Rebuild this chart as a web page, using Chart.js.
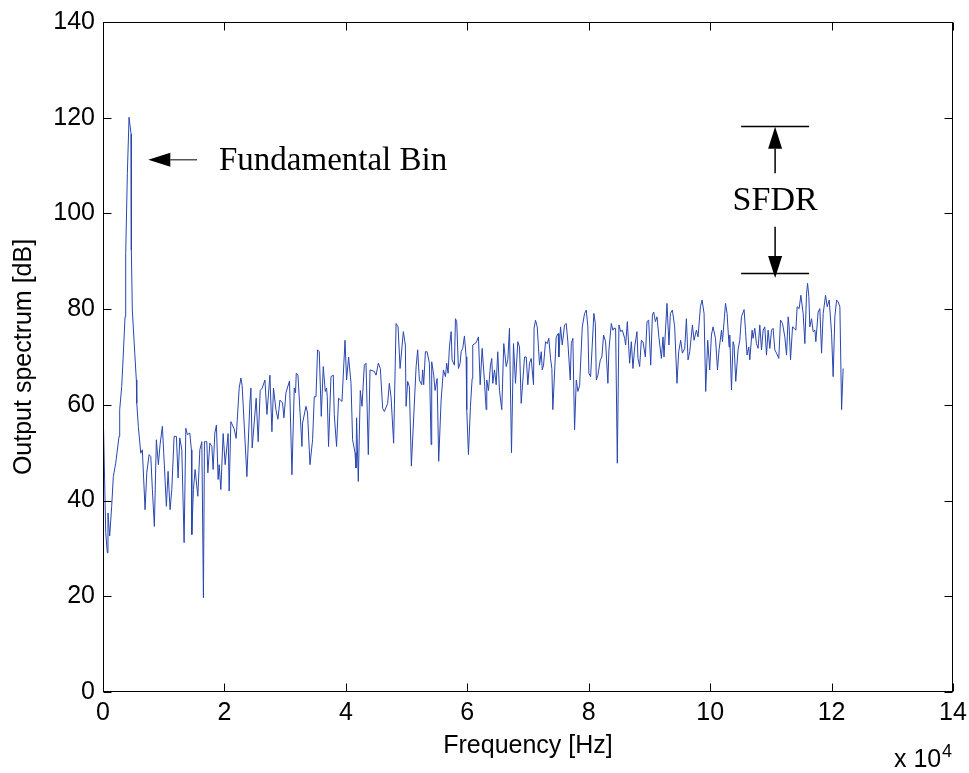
<!DOCTYPE html>
<html>
<head>
<meta charset="utf-8">
<script src="https://cdn.jsdelivr.net/npm/chart.js@4.4.1/dist/chart.umd.min.js"></script>
<style>
  body { margin: 0; background: #fff; }
  canvas { display: block; }
</style>
</head>
<body>
<canvas id="spectrum" width="969" height="773"></canvas>
<script>
// frequency in units of 1e4 Hz
const freq = [
  0.000, 0.045, 0.071, 0.082, 0.110, 0.143, 0.170, 0.209, 0.264, 0.275, 0.308, 0.330, 0.363, 0.374, 0.401, 0.429,
  0.462, 0.467, 0.483, 0.523, 0.549, 0.556, 0.582, 0.622, 0.648, 0.693, 0.721, 0.759, 0.787, 0.813, 0.846, 0.879,
  0.912, 0.940, 0.978, 1.006, 1.044, 1.072, 1.105, 1.133, 1.171, 1.209, 1.237, 1.265, 1.298, 1.336, 1.364, 1.390,
  1.430, 1.456, 1.463, 1.489, 1.517, 1.562, 1.595, 1.628, 1.654, 1.671, 1.710, 1.727, 1.760, 1.793, 1.814, 1.842,
  1.868, 1.896, 1.913, 1.941, 1.979, 2.012, 2.061, 2.078, 2.106, 2.160, 2.193, 2.243, 2.271, 2.292, 2.370, 2.419,
  2.436, 2.457, 2.523, 2.556, 2.589, 2.622, 2.667, 2.700, 2.749, 2.782, 2.808, 2.848, 2.881, 2.914, 2.957, 2.980,
  3.013, 3.072, 3.112, 3.150, 3.171, 3.183, 3.211, 3.277, 3.287, 3.343, 3.369, 3.409, 3.452, 3.480, 3.508, 3.534,
  3.562, 3.595, 3.628, 3.661, 3.682, 3.694, 3.715, 3.755, 3.793, 3.809, 3.847, 3.880, 3.936, 3.986, 4.012, 4.045,
  4.085, 4.111, 4.151, 4.167, 4.177, 4.205, 4.238, 4.266, 4.304, 4.332, 4.370, 4.398, 4.469, 4.497, 4.535, 4.568,
  4.606, 4.634, 4.688, 4.716, 4.744, 4.787, 4.827, 4.860, 4.893, 4.947, 4.980, 4.992, 5.018, 5.046, 5.079, 5.157,
  5.183, 5.211, 5.249, 5.265, 5.282, 5.310, 5.338, 5.376, 5.404, 5.414, 5.447, 5.470, 5.503, 5.529, 5.569, 5.607,
  5.640, 5.661, 5.684, 5.706, 5.734, 5.750, 5.788, 5.805, 5.826, 5.854, 5.882, 5.899, 5.925, 5.953, 5.981, 5.991,
  6.019, 6.052, 6.080, 6.090, 6.146, 6.184, 6.212, 6.245, 6.283, 6.311, 6.321, 6.349, 6.382, 6.403, 6.420, 6.448,
  6.476, 6.502, 6.530, 6.568, 6.601, 6.641, 6.667, 6.695, 6.728, 6.761, 6.794, 6.832, 6.860, 6.888, 6.943, 6.971,
  6.997, 7.025, 7.053, 7.091, 7.100, 7.124, 7.152, 7.190, 7.218, 7.235, 7.256, 7.289, 7.317, 7.343, 7.371, 7.393,
  7.409, 7.465, 7.498, 7.508, 7.536, 7.564, 7.602, 7.630, 7.656, 7.696, 7.713, 7.739, 7.767, 7.795, 7.822, 7.850,
  7.894, 7.932, 7.960, 7.986, 8.003, 8.031, 8.085, 8.109, 8.125, 8.151, 8.191, 8.217, 8.245, 8.278, 8.316, 8.333,
  8.372, 8.399, 8.415, 8.443, 8.471, 8.498, 8.526, 8.554, 8.592, 8.608, 8.636, 8.674, 8.702, 8.729, 8.757, 8.795,
  8.811, 8.839, 8.867, 8.894, 8.933, 8.960, 8.988, 9.021, 9.049, 9.070, 9.098, 9.125, 9.158, 9.197, 9.224, 9.240,
  9.289, 9.322, 9.345, 9.378, 9.416, 9.454, 9.482, 9.515, 9.543, 9.581, 9.609, 9.636, 9.664, 9.708, 9.735, 9.774,
  9.801, 9.840, 9.867, 9.900, 9.927, 9.960, 9.993, 10.021, 10.048, 10.088, 10.121, 10.147, 10.187, 10.203, 10.253, 10.279,
  10.312, 10.323, 10.351, 10.378, 10.394, 10.422, 10.460, 10.488, 10.516, 10.559, 10.582, 10.608, 10.636, 10.653, 10.691, 10.707,
  10.735, 10.763, 10.790, 10.818, 10.846, 10.873, 10.900, 10.928, 10.955, 10.983, 11.011, 11.037, 11.065, 11.093, 11.131, 11.159,
  11.192, 11.230, 11.258, 11.285, 11.301, 11.324, 11.357, 11.384, 11.412, 11.433, 11.466, 11.494, 11.532, 11.560, 11.588, 11.605,
  11.626, 11.642, 11.670, 11.697, 11.725, 11.741, 11.779, 11.807, 11.835, 11.862, 11.901, 11.928, 11.961, 12.000, 12.026, 12.054,
  12.083, 12.109, 12.137, 12.165, 12.191
];

// output spectrum in dB
const spectrum = [
  60.3, 33.3, 29.1, 37.4, 32.6, 38.8, 45.0, 47.8, 53.4, 59.0, 63.8, 69.4, 78.4, 91.6, 108.3, 120.1,
  116.6, 92.3, 79.8, 70.8, 65.2, 60.3, 55.5, 49.9, 50.6, 38.1, 45.8, 49.6, 49.2, 42.3, 34.6, 52.7,
  47.5, 51.7, 55.5, 48.5, 38.8, 46.1, 38.1, 42.3, 53.4, 53.4, 44.7, 53.1, 50.6, 31.2, 55.1, 53.8,
  54.1, 50.6, 32.9, 42.3, 46.5, 40.9, 50.6, 52.3, 19.7, 52.3, 52.3, 45.8, 52.0, 51.3, 46.5, 54.1,
  55.8, 44.4, 47.5, 42.3, 54.0, 47.5, 54.0, 42.0, 56.5, 55.0, 53.0, 63.5, 65.6, 64.0, 45.0, 60.4,
  63.5, 51.0, 61.4, 52.3, 63.0, 63.5, 65.2, 58.0, 66.2, 54.4, 63.5, 59.0, 57.0, 61.0, 60.4, 57.3,
  62.5, 65.0, 45.4, 63.5, 62.5, 66.6, 66.2, 51.3, 56.2, 59.7, 58.3, 47.5, 52.7, 61.7, 61.7, 71.5,
  71.1, 57.6, 68.0, 62.8, 63.5, 61.7, 51.3, 65.9, 66.2, 58.0, 51.3, 61.4, 60.7, 73.5, 65.2, 70.0,
  64.5, 52.7, 50.0, 46.8, 57.3, 44.0, 63.0, 59.7, 68.3, 68.7, 49.6, 67.3, 67.0, 66.2, 68.7, 67.6,
  59.3, 58.6, 60.3, 64.5, 61.7, 52.0, 77.0, 76.3, 67.6, 75.3, 72.5, 59.7, 64.9, 63.8, 47.2, 68.0,
  71.5, 65.2, 64.2, 67.3, 64.2, 71.1, 71.1, 68.7, 51.7, 69.0, 66.2, 63.0, 65.5, 48.2, 61.0, 67.3,
  65.9, 68.7, 66.6, 72.1, 75.3, 69.4, 68.3, 78.0, 77.4, 67.6, 68.7, 71.1, 71.8, 74.4, 70.0, 59.0,
  49.6, 59.7, 65.5, 72.5, 73.0, 74.2, 64.2, 71.8, 64.9, 59.0, 65.2, 63.0, 68.3, 69.7, 64.5, 67.3,
  64.2, 71.1, 63.0, 59.0, 72.8, 68.0, 69.4, 76.0, 50.0, 72.8, 64.5, 73.2, 72.1, 60.3, 70.0, 70.0,
  64.2, 68.7, 69.7, 64.2, 76.0, 77.7, 76.3, 68.3, 71.1, 67.3, 68.3, 73.2, 72.8, 73.9, 69.7, 67.6,
  59.0, 74.2, 74.9, 70.0, 76.3, 72.5, 76.7, 77.0, 73.2, 65.2, 72.8, 73.9, 54.8, 65.2, 62.8, 64.0,
  76.3, 79.1, 79.8, 76.3, 66.6, 65.9, 79.1, 77.0, 65.2, 66.2, 69.4, 70.0, 74.6, 73.2, 64.5, 71.5,
  77.0, 75.6, 76.0, 76.0, 47.8, 76.7, 75.3, 75.6, 73.9, 72.5, 77.4, 68.7, 73.2, 67.6, 72.1, 75.3,
  69.7, 68.0, 73.5, 73.2, 70.0, 77.4, 77.7, 68.3, 78.8, 79.4, 77.4, 78.4, 73.9, 69.7, 74.2, 70.0,
  81.2, 72.5, 79.1, 79.8, 76.3, 64.5, 71.1, 73.5, 70.8, 71.8, 78.0, 69.4, 71.1, 76.7, 73.5, 75.6,
  74.2, 80.5, 81.9, 79.1, 62.8, 73.5, 67.3, 74.6, 76.3, 73.9, 67.3, 71.5, 75.6, 73.2, 81.2, 79.1,
  72.1, 74.6, 63.1, 73.2, 72.5, 64.9, 71.5, 73.5, 78.4, 79.9, 75.6, 70.4, 72.1, 69.4, 75.6, 73.9,
  76.0, 72.8, 71.8, 76.7, 71.5, 75.6, 76.3, 70.4, 75.6, 71.8, 75.6, 76.0, 71.5, 70.8, 69.7, 77.7,
  77.0, 74.2, 70.4, 78.4, 76.3, 69.4, 76.3, 76.0, 75.6, 80.5, 80.1, 82.9, 79.1, 72.8, 83.3, 85.4,
  82.6, 76.3, 78.0, 75.3, 75.6, 73.2, 79.4, 80.1, 70.8, 79.1, 82.9, 80.5, 81.9, 74.9, 65.9, 78.4,
  81.9, 81.5, 80.5, 59.0, 67.6
];

const xTicks = [0, 2, 4, 6, 8, 10, 12, 14];
const yTicks = [0, 20, 40, 60, 80, 100, 120, 140];

Chart.defaults.font.family = '"Liberation Sans", Arial, sans-serif';
Chart.defaults.font.size = 25;
Chart.defaults.color = '#000';

function arrow(ctx, x1, y1, x2, y2) {
  // shaft from (x1,y1) to tip (x2,y2), filled head
  const len = 22, half = 7;
  const a = Math.atan2(y2 - y1, x2 - x1);
  const bx = x2 - len * Math.cos(a), by = y2 - len * Math.sin(a);
  ctx.beginPath();
  ctx.moveTo(x1, y1);
  ctx.lineTo(bx, by);
  ctx.stroke();
  ctx.beginPath();
  ctx.moveTo(x2, y2);
  ctx.lineTo(bx + half * Math.sin(a), by - half * Math.cos(a));
  ctx.lineTo(bx - half * Math.sin(a), by + half * Math.cos(a));
  ctx.closePath();
  ctx.fill();
}

const frame = {
  id: 'frame',
  afterDraw(chart) {
    const ctx = chart.ctx;
    const { left, right, top, bottom } = chart.chartArea;
    const xs = chart.scales.x, ys = chart.scales.y;
    const tl = 8;
    ctx.save();
    ctx.strokeStyle = '#000';
    ctx.fillStyle = '#000';
    ctx.lineWidth = 1;
    const L = Math.round(left) + 0.5, R = Math.round(right) - 0.5;
    const T = Math.round(top) + 0.5, B = Math.round(bottom) - 0.5;
    ctx.strokeRect(L, T, R - L, B - T);
    // inward ticks on all four sides
    ctx.beginPath();
    xTicks.forEach(v => {
      const px = Math.round(xs.getPixelForValue(v)) + 0.5;
      ctx.moveTo(px, B); ctx.lineTo(px, B - tl);
      ctx.moveTo(px, T); ctx.lineTo(px, T + tl);
    });
    yTicks.forEach(v => {
      const py = Math.round(ys.getPixelForValue(v)) + 0.5;
      ctx.moveTo(L, py); ctx.lineTo(L + tl, py);
      ctx.moveTo(R, py); ctx.lineTo(R - tl, py);
    });
    ctx.stroke();

    // x 10^4 exponent
    ctx.textBaseline = 'alphabetic';
    ctx.textAlign = 'left';
    ctx.font = '25px "Liberation Sans", Arial, sans-serif';
    ctx.fillText('x 10', 894, 767);
    ctx.font = '18px "Liberation Sans", Arial, sans-serif';
    ctx.fillText('4', 942, 757);

    // Fundamental Bin annotation
    const fy = ys.getPixelForValue(111.2);
    arrow(ctx, xs.getPixelForValue(1.548), fy, xs.getPixelForValue(0.746), fy);
    ctx.font = '33px "Liberation Serif", "Times New Roman", serif';
    ctx.fillText('Fundamental Bin', xs.getPixelForValue(1.91), ys.getPixelForValue(109.1));

    // SFDR annotation
    const sx = xs.getPixelForValue(11.07);
    const sx1 = xs.getPixelForValue(10.51), sx2 = xs.getPixelForValue(11.63);
    const yTop = Math.round(ys.getPixelForValue(118.3)) + 0.5;
    const yBot = Math.round(ys.getPixelForValue(87.5)) + 0.5;
    ctx.lineWidth = 1.5;
    ctx.beginPath();
    ctx.moveTo(sx1, yTop); ctx.lineTo(sx2, yTop);
    ctx.moveTo(sx1, yBot); ctx.lineTo(sx2, yBot);
    ctx.stroke();
    arrow(ctx, sx, ys.getPixelForValue(108.4), sx, ys.getPixelForValue(118.1));
    arrow(ctx, sx, ys.getPixelForValue(97.2), sx, ys.getPixelForValue(86.5));
    ctx.textAlign = 'center';
    ctx.font = '34px "Liberation Serif", "Times New Roman", serif';
    ctx.fillText('SFDR', sx, ys.getPixelForValue(100.7));
    ctx.restore();
  }
};

new Chart(document.getElementById('spectrum'), {
  type: 'line',
  data: {
    datasets: [{
      data: freq.map((f, i) => ({ x: f, y: spectrum[i] })),
      borderColor: 'rgb(40, 70, 175)',
      borderWidth: 1,
      pointRadius: 0,
      tension: 0,
      fill: false
    }]
  },
  options: {
    responsive: false,
    animation: false,
    layout: { padding: { left: 0, top: 22, right: 16, bottom: 0 } },
    plugins: { legend: { display: false }, tooltip: { enabled: false } },
    scales: {
      x: {
        type: 'linear',
        min: 0,
        max: 14,
        afterBuildTicks: s => { s.ticks = xTicks.map(v => ({ value: v })); },
        afterFit: s => { s.height = 81; s.paddingLeft = 0; s.paddingRight = 0; },
        grid: { display: false, drawTicks: false },
        border: { display: false },
        ticks: { padding: 6, maxRotation: 0, autoSkip: false },
        title: { display: true, text: 'Frequency [Hz]', padding: { top: 0, bottom: 12 } }
      },
      y: {
        type: 'linear',
        min: 0,
        max: 140,
        afterBuildTicks: s => { s.ticks = yTicks.map(v => ({ value: v })); },
        afterFit: s => { s.width = 103; s.paddingTop = 0; s.paddingBottom = 0; },
        grid: { display: false, drawTicks: false },
        border: { display: false },
        ticks: { padding: 8, autoSkip: false },
        title: { display: true, text: 'Output spectrum [dB]', padding: { top: 9, bottom: 0 } }
      }
    }
  },
  plugins: [frame]
});
</script>
</body>
</html>
